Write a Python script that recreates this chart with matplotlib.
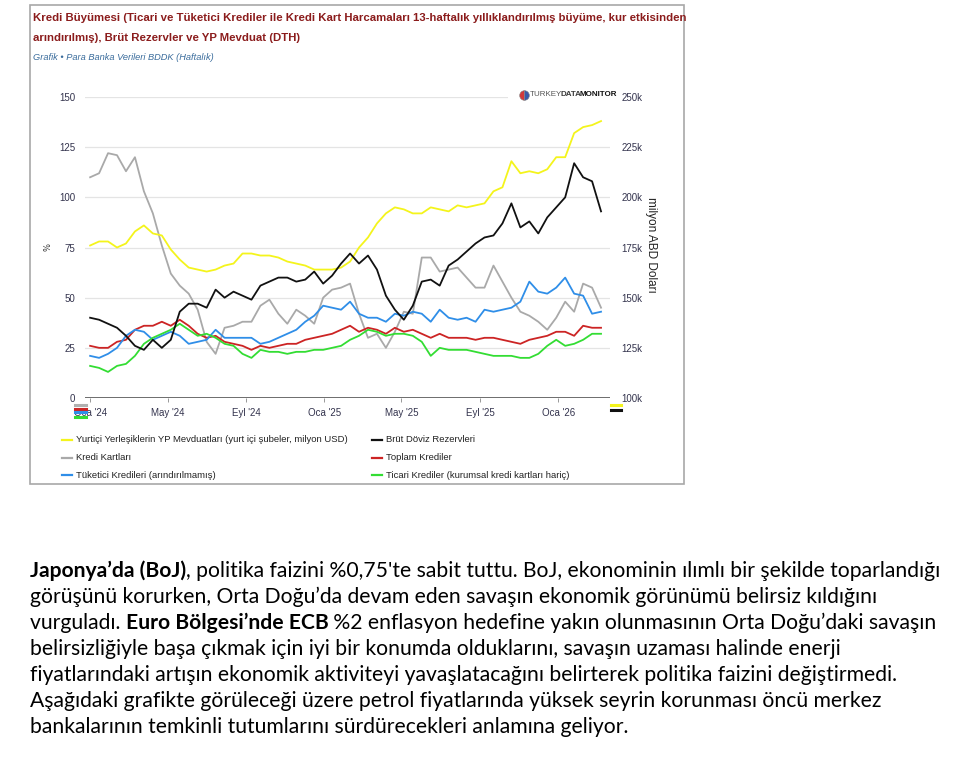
import matplotlib
matplotlib.use('Agg')
import matplotlib.pyplot as plt
from matplotlib.lines import Line2D
from matplotlib.patches import Rectangle
import pandas as pd

W, H = 960, 761                                  # piksel boyutu

# ---- veriler (iki haftalık okuma) ----
dates = pd.date_range('2024-01-01', periods=58, freq='14D')

yp_mevduat = [176, 178, 178, 175, 177, 183, 186, 182, 181, 174,
              169, 165, 164, 163, 164, 166, 167, 172, 172, 171,
              171, 170, 168, 167, 166, 164, 164, 164, 165, 168,
              175, 180, 187, 192, 195, 194, 192, 192, 195, 194,
              193, 196, 195, 196, 197, 203, 205, 218, 212, 213,
              212, 214, 220, 220, 232, 235, 236, 238]
brut_rezerv = [140, 139, 137, 135, 131, 126, 124, 129, 125, 129,
               143, 147, 147, 145, 154, 150, 153, 151, 149, 156,
               158, 160, 160, 158, 159, 163, 157, 161, 167, 172,
               167, 171, 164, 151, 144, 139, 146, 158, 159, 156,
               166, 169, 173, 177, 180, 181, 187, 197, 185, 188,
               182, 190, 195, 200, 217, 210, 208, 193]
kredi_kartlari = [110, 112, 122, 121, 113, 120, 103, 92, 76, 62,
                  56, 52, 44, 28, 22, 35, 36, 38, 38, 46,
                  49, 42, 37, 44, 41, 37, 50, 54, 55, 57,
                  42, 30, 32, 25, 33, 43, 42, 70, 70, 63,
                  64, 65, 60, 55, 55, 66, 58, 50, 43, 41,
                  38, 34, 40, 48, 43, 57, 55, 45]
toplam_krediler = [26, 25, 25, 28, 29, 34, 36, 36, 38, 36,
                   39, 36, 32, 30, 31, 28, 27, 26, 24, 26,
                   25, 26, 27, 27, 29, 30, 31, 32, 34, 36,
                   33, 35, 34, 32, 35, 33, 34, 32, 30, 32,
                   30, 30, 30, 29, 30, 30, 29, 28, 27, 29,
                   30, 31, 33, 33, 31, 36, 35, 35]
tuketici_kredileri = [21, 20, 22, 25, 31, 34, 33, 29, 31, 33,
                      31, 27, 28, 29, 34, 30, 30, 30, 30, 27,
                      28, 30, 32, 34, 38, 41, 46, 45, 44, 48,
                      42, 40, 40, 38, 42, 41, 43, 42, 38, 44,
                      40, 39, 40, 38, 44, 43, 44, 45, 48, 58,
                      53, 52, 55, 60, 52, 51, 42, 43]
ticari_krediler = [16, 15, 13, 16, 17, 21, 27, 30, 32, 34,
                   37, 34, 31, 32, 30, 27, 26, 22, 20, 24,
                   23, 23, 22, 23, 23, 24, 24, 25, 26, 29,
                   31, 34, 33, 31, 32, 32, 31, 28, 21, 25,
                   24, 24, 24, 23, 22, 21, 21, 21, 20, 20,
                   22, 26, 29, 26, 27, 29, 32, 32]

left_ticks = [0, 25, 50, 75, 100, 125, 150]
right_ticks = [100, 125, 150, 175, 200, 225, 250]
tick_dates = ['2024-01-01', '2024-05-01', '2024-09-01', '2025-01-01',
              '2025-05-01', '2025-09-01', '2026-01-01']
tick_labels = ["Oca '24", "May '24", "Eyl '24", "Oca '25",
               "May '25", "Eyl '25", "Oca '26"]

title_lines = ['Kredi Büyümesi (Ticari ve Tüketici Krediler ile Kredi Kart Harcamaları 13-haftalık yıllıklandırılmış büyüme, kur etkisinden',
               'arındırılmış), Brüt Rezervler ve YP Mevduat (DTH)']
labels = ['Yurtiçi Yerleşiklerin YP Mevduatları (yurt içi şubeler, milyon USD)',
          'Brüt Döviz Rezervleri', 'Kredi Kartları', 'Toplam Krediler',
          'Tüketici Kredileri (arındırılmamış)',
          'Ticari Krediler (kurumsal kredi kartları hariç)']
colors = ['#f4f41c', '#111111', '#a9a9a9', '#cc2424', '#2f8ee8', '#33dd33']

paragraph = [
    [('Japonya’da (BoJ)', True), (", politika faizini %0,75'te sabit tuttu. BoJ, ekonominin ılımlı bir şekilde toparlandığı", False)],
    [('görüşünü korurken, Orta Doğu’da devam eden savaşın ekonomik görünümü belirsiz kıldığını', False)],
    [('vurguladı. ', False), ('Euro Bölgesi’nde ECB', True), (' %2 enflasyon hedefine yakın olunmasının Orta Doğu’daki savaşın', False)],
    [('belirsizliğiyle başa çıkmak için iyi bir konumda olduklarını, savaşın uzaması halinde enerji', False)],
    [('fiyatlarındaki artışın ekonomik aktiviteyi yavaşlatacağını belirterek politika faizini değiştirmedi.', False)],
    [('Aşağıdaki grafikte görüleceği üzere petrol fiyatlarında yüksek seyrin korunması öncü merkez', False)],
    [('bankalarının temkinli tutumlarını sürdürecekleri anlamına geliyor.', False)],
]

SANS = ['Liberation Sans', 'DejaVu Sans']


def fx(px):
    return px / W


def fy(py):
    return 1 - py / H


fig = plt.figure(figsize=(W / 100, H / 100), dpi=100)
fig.patch.set_facecolor('white')
fig.canvas.draw()
r = fig.canvas.get_renderer()

# grafik çerçevesi
fig.add_artist(Rectangle((fx(30), fy(484)), fx(684) - fx(30), fy(5) - fy(484),
                         transform=fig.transFigure, fill=False,
                         edgecolor='#a8a8a8', linewidth=1.2))

# başlık: dar yazı varsa onu seç, 650 piksel genişliğe sığdır
best = None
for fam, stretch in [(['DejaVu Sans'], 'condensed'), (SANS, 'normal')]:
    t = fig.text(0, 0, title_lines[0], family=fam, fontstretch=stretch,
                 fontsize=10, fontweight='bold')
    w = t.get_window_extent(r).width
    t.remove()
    size = min(10 * 650 / w, 10.5)
    if best is None or size > best[2]:
        best = (fam, stretch, size)
for i, line in enumerate(title_lines):
    fig.text(fx(33), fy(18 + 20 * i), line, family=best[0], fontstretch=best[1],
             fontsize=best[2], fontweight='bold', color='#8b1c1c', va='center')
fig.text(fx(33), fy(58), 'Grafik • Para Banka Verileri BDDK (Haftalık)',
         family=SANS, fontsize=6.7, style='italic', color='#3a6c9c', va='center')

ax = fig.add_axes([fx(85), fy(398), fx(610) - fx(85), fy(97) - fy(398)])
ax2 = ax.twinx()

ax.plot(dates, kredi_kartlari, color=colors[2], lw=1.3)
ax.plot(dates, toplam_krediler, color=colors[3], lw=1.3)
ax.plot(dates, tuketici_kredileri, color=colors[4], lw=1.3)
ax.plot(dates, ticari_krediler, color=colors[5], lw=1.3)
ax2.plot(dates, yp_mevduat, color=colors[0], lw=1.3)
ax2.plot(dates, brut_rezerv, color=colors[1], lw=1.3)

ax.set_xlim(pd.Timestamp('2023-12-24'), pd.Timestamp('2026-03-23'))
ax.set_ylim(0, 150)
ax2.set_ylim(100, 250)
ax.set_yticks(left_ticks)
ax2.set_yticks(right_ticks)
ax2.set_yticklabels([f'{v}k' for v in right_ticks])
ax.set_xticks([pd.Timestamp(d) for d in tick_dates])
ax.set_xticklabels(tick_labels)

ax.grid(axis='y', color='#e4e4e4', lw=0.9)
ax.set_axisbelow(True)
for a in (ax, ax2):
    for s in ('top', 'right', 'left', 'bottom'):
        a.spines[s].set_visible(False)
ax.axhline(0, color='#555555', lw=1.2, zorder=1)

ax.tick_params(axis='y', length=0, pad=7, labelsize=7, labelcolor='#33334d')
ax2.tick_params(axis='y', length=0, pad=8.5, labelsize=7, labelcolor='#33334d')
ax.tick_params(axis='x', length=3, width=0.6, color='#888888', pad=4,
               labelsize=7, labelcolor='#33334d')
for t in ax.get_xticklabels() + ax.get_yticklabels() + ax2.get_yticklabels():
    t.set_family(SANS)

fig.text(fx(48), fy(247), '%', rotation=90, fontsize=6, color='#333333',
         va='center', ha='center')
fig.text(fx(651), fy(245), 'milyon ABD Doları', rotation=-90, fontsize=8.5,
         family=SANS, color='#222222', va='center', ha='center')

# logo
fig.add_artist(Rectangle((fx(508), fy(104)), fx(616) - fx(508), fy(88) - fy(104),
                         transform=fig.transFigure, facecolor='white',
                         edgecolor='none', zorder=1))
fig.add_artist(Line2D([fx(524)], [fy(95)], transform=fig.transFigure, marker='o',
                      markersize=7, fillstyle='left', markerfacecolor='#d23a3a',
                      markerfacecoloralt='#3a5aa8', markeredgecolor='#888888',
                      markeredgewidth=0.4, zorder=2))
t1 = fig.text(fx(530), fy(95), 'TURKEY', family=SANS, fontsize=5.8,
              color='#555555', va='center', zorder=3)
t2 = fig.text(0, 0, 'DATA', family=SANS, fontsize=5.8, fontweight='bold',
              color='#3a3a3a', va='center', zorder=3)
t3 = fig.text(0, 0, 'MONITOR', family=SANS, fontsize=5.8, fontweight='bold',
              color='#111111', va='center', zorder=3)
bb = t1.get_window_extent(r)
t2.set_position(((bb.x1 - 2) / W, fy(95)))
bb = t2.get_window_extent(r)
t3.set_position(((bb.x1 - 2) / W, fy(95)))

# küçük kesik işaretler (orijinaldeki)
for (x0, x1, y, c) in [(75, 86, 405, '#b0b0b0'), (75, 86, 409, '#cc2424'),
                       (75, 86, 412, '#2f8ee8'), (75, 86, 417, '#33dd33'),
                       (611, 621, 405, '#f4f41c'), (611, 621, 410, '#111111')]:
    fig.add_artist(Line2D([fx(x0), fx(x1)], [fy(y), fy(y)], transform=fig.transFigure,
                          color=c, lw=2.2, zorder=4))

# lejant
legend_pos = [(62, 440), (372, 440), (62, 458), (372, 458), (62, 475), (372, 475)]
for (px, py), lab, c in zip(legend_pos, labels, colors):
    fig.add_artist(Line2D([fx(px), fx(px + 10)], [fy(py), fy(py)],
                          transform=fig.transFigure, color=c, lw=1.6))
    fig.text(fx(px + 14), fy(py), lab, family=SANS, fontsize=6.8,
             color='#222222', va='center')

# alt paragraf
PFONT = ['Lato', 'DejaVu Sans']
for i, line in enumerate(paragraph):
    y = fy(577 + 26 * i)
    xpos = fx(30)
    for txt, bold in line:
        t = fig.text(xpos, y, txt, family=PFONT, fontsize=15.2,
                     fontweight='bold' if bold else 'normal', color='#000000',
                     va='baseline')
        bb = t.get_window_extent(r)
        xpos = bb.x1 / W

fig.savefig('out.png', dpi=100)
